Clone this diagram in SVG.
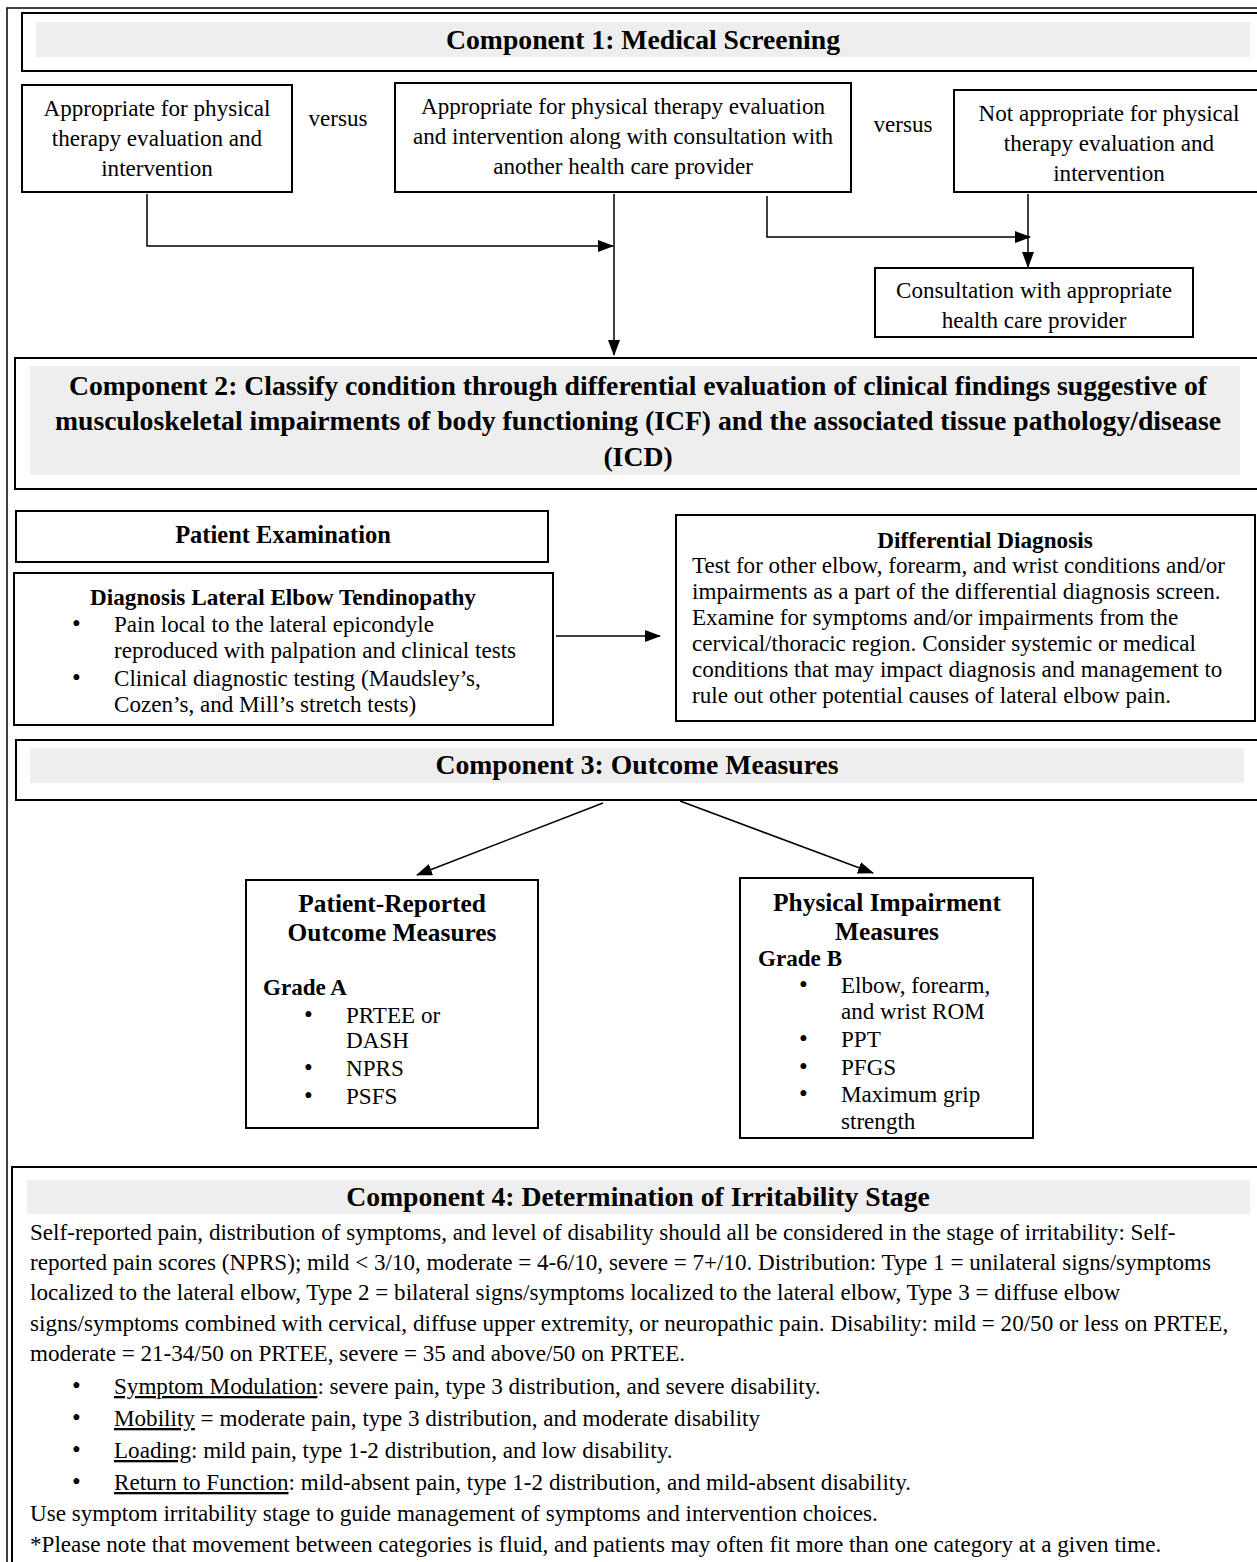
<svg xmlns="http://www.w3.org/2000/svg" width="1257" height="1562" viewBox="0 0 1257 1562">
<style>
text{font-family:"Liberation Serif","Times New Roman",serif;fill:#000;}
.t{font-size:23.1px;}
.bu{font-size:25px;}
.m{text-anchor:middle;}
.b{font-weight:bold;}
.h{font-size:27.7px;font-weight:bold;text-anchor:middle;}
.h2{font-size:23.2px;font-weight:bold;text-anchor:middle;}
.h3{font-size:25.4px;font-weight:bold;text-anchor:middle;}
.box{fill:#fff;stroke:#000;stroke-width:2;}
.band{fill:#eeeeee;stroke:none;}
.ln{fill:none;stroke:#000;stroke-width:1.5;}
.u{text-decoration:underline;}
</style>
<defs>
<marker id="ah2" markerWidth="16" markerHeight="12" refX="15" refY="6" orient="auto" markerUnits="userSpaceOnUse">
<path d="M0,0 L16,6 L0,12 z" fill="#000"/>
</marker>
</defs>
<rect width="1257" height="1562" fill="#fff"/>
<path d="M7,1562 V8 H1257" class="ln"/>

<g id="component1">
<rect x="22" y="13" width="1245" height="58" class="box"/>
<rect x="36" y="22" width="1214" height="35" class="band"/>
<text x="643" y="49" class="h">Component 1: Medical Screening</text>
</g>

<g id="boxA">
<rect x="22" y="85" width="270" height="107" class="box"/>
<text class="t m" x="157" y="116">Appropriate for physical</text>
<text class="t m" x="157" y="146">therapy evaluation and</text>
<text class="t m" x="157" y="176">intervention</text>
</g>
<text class="t m" x="338" y="126">versus</text>
<g id="boxB">
<rect x="395" y="83" width="456" height="109" class="box"/>
<text class="t m" x="623" y="114">Appropriate for physical therapy evaluation</text>
<text class="t m" x="623" y="144">and intervention along with consultation with</text>
<text class="t m" x="623" y="174">another health care provider</text>
</g>
<text class="t m" x="903" y="132">versus</text>
<g id="boxC">
<rect x="954" y="90" width="313" height="102" class="box"/>
<text class="t m" x="1109" y="121">Not appropriate for physical</text>
<text class="t m" x="1109" y="151">therapy evaluation and</text>
<text class="t m" x="1109" y="181">intervention</text>
</g>
<g id="consult">
<rect x="875" y="268" width="318" height="69" class="box"/>
<text class="t m" x="1034" y="298">Consultation with appropriate</text>
<text class="t m" x="1034" y="328">health care provider</text>
</g>

<g id="component2">
<rect x="15" y="358" width="1252" height="131" class="box"/>
<rect x="30" y="366" width="1210" height="109" class="band"/>
<text x="638" y="395" class="h">Component 2: Classify condition through differential evaluation of clinical findings suggestive of</text>
<text x="638" y="430" class="h">musculoskeletal impairments of body functioning (ICF) and the associated tissue pathology/disease</text>
<text x="638" y="466" class="h">(ICD)</text>
</g>

<g id="patientExam">
<rect x="16" y="511" width="532" height="51" class="box"/>
<text x="283" y="543" class="h3" style="font-size:24.5px">Patient Examination</text>
</g>
<g id="diagnosis">
<rect x="14" y="573" width="539" height="152" class="box"/>
<text x="283" y="605" class="h2">Diagnosis Lateral Elbow Tendinopathy</text>
<text class="bu" x="72" y="632">•</text>
<text class="t" x="114" y="632">Pain local to the lateral epicondyle</text>
<text class="t" x="114" y="658">reproduced with palpation and clinical tests</text>
<text class="bu" x="72" y="686">•</text>
<text class="t" x="114" y="686">Clinical diagnostic testing (Maudsley’s,</text>
<text class="t" x="114" y="712">Cozen’s, and Mill’s stretch tests)</text>
</g>
<g id="differential">
<rect x="676" y="515" width="579" height="206" class="box"/>
<text x="985" y="548" class="h2">Differential Diagnosis</text>
<text class="t" x="692" y="573">Test for other elbow, forearm, and wrist conditions and/or</text>
<text class="t" x="692" y="599">impairments as a part of the  differential diagnosis screen.</text>
<text class="t" x="692" y="625">Examine for symptoms and/or impairments from the</text>
<text class="t" x="692" y="651">cervical/thoracic region. Consider systemic or medical</text>
<text class="t" x="692" y="677">conditions that may impact diagnosis and management to</text>
<text class="t" x="692" y="703">rule out other potential causes of lateral elbow pain.</text>
</g>

<g id="component3">
<rect x="16" y="740" width="1251" height="60" class="box"/>
<rect x="30" y="748" width="1214" height="35" class="band"/>
<text x="637" y="774" class="h">Component 3: Outcome Measures</text>
</g>
<g id="prom">
<rect x="246" y="880" width="292" height="248" class="box"/>
<text x="392" y="912" class="h3">Patient-Reported</text>
<text x="392" y="941" class="h3">Outcome Measures</text>
<text x="263" y="995" class="t b">Grade A</text>
<text class="bu" x="304" y="1023">•</text><text class="t" x="346" y="1023">PRTEE or</text>
<text class="t" x="346" y="1048">DASH</text>
<text class="bu" x="304" y="1076">•</text><text class="t" x="346" y="1076">NPRS</text>
<text class="bu" x="304" y="1104">•</text><text class="t" x="346" y="1104">PSFS</text>
</g>
<g id="pim">
<rect x="740" y="878" width="293" height="260" class="box"/>
<text x="887" y="911" class="h3">Physical Impairment</text>
<text x="887" y="940" class="h3">Measures</text>
<text x="758" y="966" class="t b">Grade B</text>
<text class="bu" x="799" y="993">•</text><text class="t" x="841" y="993">Elbow, forearm,</text>
<text class="t" x="841" y="1019">and wrist ROM</text>
<text class="bu" x="799" y="1047">•</text><text class="t" x="841" y="1047">PPT</text>
<text class="bu" x="799" y="1075">•</text><text class="t" x="841" y="1075">PFGS</text>
<text class="bu" x="799" y="1102">•</text><text class="t" x="841" y="1102">Maximum grip</text>
<text class="t" x="841" y="1129">strength</text>
</g>

<g id="component4">
<rect x="12" y="1167" width="1255" height="400" class="box"/>
<rect x="27" y="1180" width="1223" height="34" class="band"/>
<text x="638" y="1206" class="h">Component 4: Determination of Irritability Stage</text>
<text class="t" x="30" y="1240">Self-reported pain, distribution of symptoms, and level of disability should all be considered in the stage of irritability: Self-</text>
<text class="t" x="30" y="1270">reported pain scores (NPRS); mild &lt; 3/10, moderate = 4-6/10, severe = 7+/10. Distribution: Type 1 = unilateral signs/symptoms</text>
<text class="t" x="30" y="1300">localized to the lateral elbow, Type 2 = bilateral signs/symptoms localized to the lateral elbow, Type 3 = diffuse elbow</text>
<text class="t" x="30" y="1331">signs/symptoms combined with cervical, diffuse upper extremity, or neuropathic pain. Disability: mild = 20/50 or less on PRTEE,</text>
<text class="t" x="30" y="1361">moderate = 21-34/50 on PRTEE, severe = 35 and above/50 on PRTEE.</text>
<text class="bu" x="72" y="1394">•</text><text class="t" x="114" y="1394"><tspan class="u">Symptom Modulation</tspan>: severe pain, type 3 distribution, and severe disability.</text>
<text class="bu" x="72" y="1426">•</text><text class="t" x="114" y="1426"><tspan class="u">Mobility</tspan> = moderate pain, type 3 distribution, and moderate disability</text>
<text class="bu" x="72" y="1458">•</text><text class="t" x="114" y="1458"><tspan class="u">Loading</tspan>: mild pain, type 1-2 distribution, and low disability.</text>
<text class="bu" x="72" y="1490">•</text><text class="t" x="114" y="1490"><tspan class="u">Return to Function</tspan>: mild-absent pain, type 1-2 distribution, and mild-absent disability.</text>
<text class="t" x="30" y="1521">Use symptom irritability stage to guide management of symptoms and intervention choices.</text>
<text class="t" x="30" y="1552">*Please note that movement between categories is fluid, and patients may often fit more than one category at a given time.</text>
</g>

<g id="connectors">
<path d="M147,194 V246 H613" class="ln" marker-end="url(#ah2)"/>
<path d="M614,194 V355" class="ln" marker-end="url(#ah2)"/>
<path d="M767,196 V237 H1030" class="ln" marker-end="url(#ah2)"/>
<path d="M1028,194 V267" class="ln" marker-end="url(#ah2)"/>
<path d="M556,636 H660" class="ln" marker-end="url(#ah2)"/>
<path d="M603,803 L417,875" class="ln" marker-end="url(#ah2)"/>
<path d="M680,801 L873,873" class="ln" marker-end="url(#ah2)"/>
</g>
</svg>
